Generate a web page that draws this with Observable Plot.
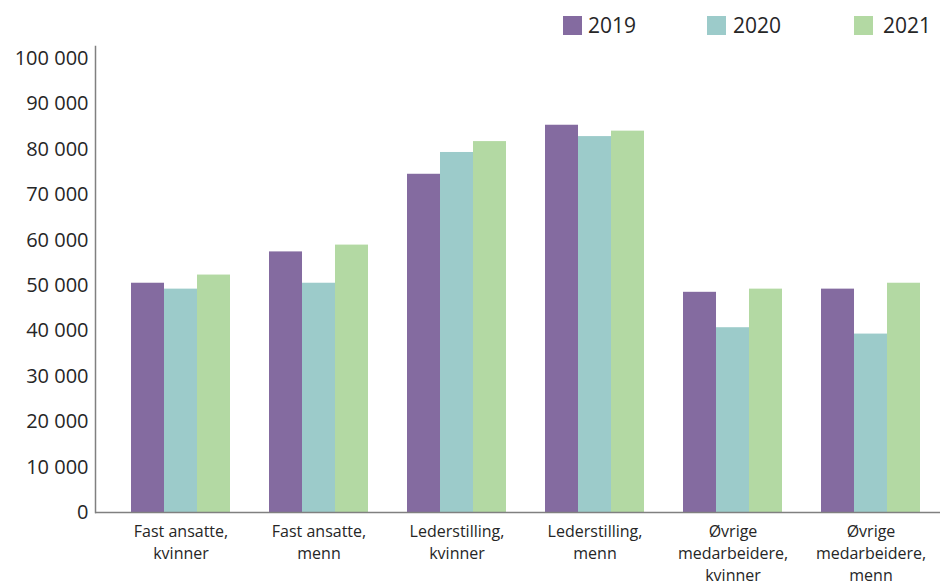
<!DOCTYPE html>
<html>
<head>
<meta charset="utf-8">
<script src="https://cdn.jsdelivr.net/npm/d3@7"></script>
<script src="https://cdn.jsdelivr.net/npm/@observablehq/plot@0.6"></script>
<style>
  html, body { margin: 0; padding: 0; background: #fff; }
  body { width: 946px; height: 583px; overflow: hidden; font-family: "Open Sans", sans-serif; color: #262626; }
  #legend { position: relative; height: 36px; width: 946px; }
  .sw { position: absolute; top: 16px; width: 19px; height: 19px; }
  .lt { position: absolute; top: 9px; font-size: 21px; line-height: 32px; }
  #chart svg { display: block; }
</style>
</head>
<body>
<div id="legend"></div>
<div id="chart"></div>
<script>
const categories = ["Fast ansatte, kvinner", "Fast ansatte, menn", "Lederstilling, kvinner", "Lederstilling, menn", "Øvrige medarbeidere, kvinner", "Øvrige medarbeidere, menn"];
const categoryLabels = ["Fast ansatte,\nkvinner", "Fast ansatte,\nmenn", "Lederstilling,\nkvinner", "Lederstilling,\nmenn", "Øvrige\nmedarbeidere,\nkvinner", "Øvrige\nmedarbeidere,\nmenn"];
const years = ["2019", "2020", "2021"];
const values2019 = [50500, 57400, 74500, 85300, 48500, 49200];
const values2020 = [49200, 50500, 79300, 82800, 40700, 39300];
const values2021 = [52300, 58900, 81700, 84000, 49200, 50500];
const colors = ["#846ba0", "#9ccbca", "#b3d9a3"];
const yTicks = [0, 10000, 20000, 30000, 40000, 50000, 60000, 70000, 80000, 90000, 100000];

const seriesValues = [values2019, values2020, values2021];
const data = [];
years.forEach((yr, i) => categories.forEach((c, j) => data.push({category: c, year: yr, value: seriesValues[i][j]})));

// legend
const legendPos = [[563, 588], [707, 733], [854, 883]];
const legend = document.getElementById("legend");
years.forEach((yr, i) => {
  const sw = document.createElement("div");
  sw.className = "sw"; sw.style.left = legendPos[i][0] + "px"; sw.style.background = colors[i];
  legend.appendChild(sw);
  const t = document.createElement("div");
  t.className = "lt"; t.style.left = legendPos[i][1] + "px"; t.textContent = yr;
  legend.appendChild(t);
});

const W = 946, H = 547, ML = 95, MR = 6, MB = 71, MT = 10;
const pInner = 0.284, pOuter = 0.198, align = 0.641;
const step = (W - ML - MR) / (categories.length - pInner + 2 * pOuter);
const third = step * (1 - pInner) / 3;

const fmt = d => d3.format(",")(d).replace(/,/g, " ");
const labelOf = Object.fromEntries(categories.map((c, i) => [c, categoryLabels[i]]));

const chart = Plot.plot({
  width: W, height: H,
  marginLeft: ML, marginRight: MR, marginTop: MT, marginBottom: MB,
  style: {fontFamily: "'Open Sans', sans-serif", color: "#262626", background: "#fff"},
  x: {domain: categories, paddingInner: pInner, paddingOuter: pOuter, align: align, axis: null},
  y: {domain: [0, 100000], range: [476, 22], axis: null},
  marks: [
    ...years.map((yr, i) => Plot.barY(data.filter(d => d.year === yr), {
      x: "category", y: "value", fill: colors[i],
      insetLeft: i * third, insetRight: (2 - i) * third
    })),
    Plot.axisY({ticks: yTicks, tickFormat: fmt, tickSize: 0, tickPadding: 7, fontSize: 20, label: null}),
    Plot.axisX({tickSize: 0, tickPadding: 9, fontSize: 16, lineHeight: 1.38, tickFormat: d => labelOf[d], label: null}),
    Plot.ruleY([0], {stroke: "#808080", strokeWidth: 1.5}),
    Plot.frame({anchor: "left", stroke: "#808080", strokeWidth: 1.5})
  ]
});
document.getElementById("chart").appendChild(chart);
</script>
</body>
</html>
